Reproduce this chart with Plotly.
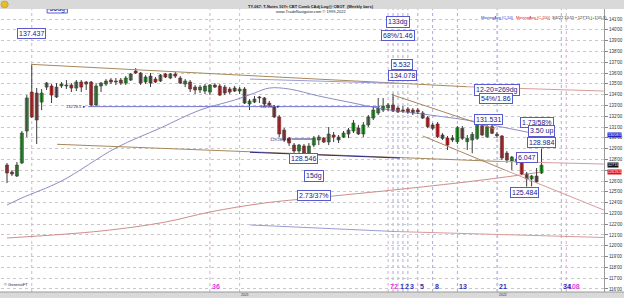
import numpy as np
import pandas as pd
import plotly.graph_objects as go

# ---------------- data (weekly bars, T-Notes 10Yr) ----------------
start = pd.Timestamp("2020-02-07")
opens = [127.48,126.83,126.46,127.67,130.63,134.24,134.15,133.31,134.70,134.80,
         133.78,134.80,134.80,134.89,134.61,135.17,135.17,135.17,133.04,134.80,
         134.98,135.35,135.26,135.35,135.07,135.35,136.19,136.00,135.17,135.72,
         135.44,135.26,135.91,135.54,135.91,135.54,134.98,135.17,134.70,134.43,
         134.33,134.24,134.89,134.80,134.70,134.52,134.61,134.33,134.52,133.13,
         133.31,133.78,133.69,133.22,132.85,131.93,130.72,129.98,129.33,128.78,
         129.24,128.59,129.33,129.80,129.98,129.61,130.26,130.07,130.07,130.35,
         130.63,130.91,130.35,131.19,131.83,132.30,132.57,132.76,133.04,132.76,
         132.57,132.67,132.57,132.57,132.30,131.86,131.19,131.28,130.26,129.98,
         129.98,129.64,130.88,129.64,129.80,129.95,131.12,130.10,131.03,130.32,
         130.17,128.59,127.85,128.04,127.76,126.65,126.19,126.46,126.74]
highs = [127.67,127.02,127.76,130.63,133.96,136.80,134.61,134.52,135.17,134.98,
         135.07,135.17,135.35,135.07,135.35,135.35,135.26,135.26,135.07,135.17,
         135.44,135.54,135.54,135.54,135.72,136.00,136.46,136.09,135.81,136.00,
         135.63,135.91,136.00,136.00,136.09,135.72,135.44,135.35,134.89,134.89,
         134.98,134.98,135.07,134.98,134.89,134.70,134.80,134.70,134.70,133.59,
         133.87,133.87,133.78,133.41,133.04,132.11,130.91,130.07,129.52,129.43,
         129.43,129.52,130.17,130.26,130.07,131.00,130.54,130.26,130.63,130.91,
         131.65,131.19,131.46,132.11,132.85,133.69,133.69,133.22,134.08,132.94,
         132.94,132.85,132.76,132.76,132.48,132.02,131.37,131.46,130.44,130.17,
         130.26,131.09,131.09,130.26,130.54,131.46,131.37,131.28,131.53,130.54,
         130.26,128.78,128.31,128.50,127.94,126.83,126.56,127.20,128.98]
lows = [125.81,126.46,126.37,127.57,130.07,131.83,129.43,132.57,134.43,133.22,
        133.69,134.61,134.52,134.24,134.33,134.24,134.43,132.85,132.94,134.24,
        134.80,134.98,134.89,134.89,134.89,135.26,135.91,134.89,134.98,134.70,
        135.07,135.17,135.54,135.44,135.54,134.98,134.70,134.24,134.06,134.15,
        134.06,133.96,134.61,133.87,133.96,134.06,134.24,134.06,133.13,132.57,
        133.22,133.22,132.85,132.94,131.83,130.07,129.61,129.24,128.59,128.59,
        128.55,128.56,129.15,129.33,129.52,129.33,129.61,129.52,129.98,129.98,
        130.44,130.26,130.07,131.00,131.65,132.11,132.39,132.48,132.39,132.30,
        132.30,132.20,132.11,132.20,131.74,130.90,130.70,129.98,129.80,128.87,
        129.61,129.43,129.80,128.87,128.57,129.80,130.17,129.98,130.35,129.98,
        127.94,127.67,127.02,127.48,126.56,125.48,125.50,125.81,126.65]
closes = [126.74,126.65,127.48,130.44,133.69,131.93,131.65,134.15,135.07,133.96,
          134.70,134.98,134.89,134.61,135.17,134.70,134.98,133.04,134.80,135.07,
          135.26,135.17,135.17,135.07,135.54,135.91,136.00,135.07,135.63,135.07,
          135.17,135.81,135.63,135.91,135.72,135.07,135.26,134.52,134.43,134.70,
          134.80,134.89,134.70,133.96,134.15,134.24,134.33,134.52,133.22,133.41,
          133.59,133.69,133.13,133.04,131.93,130.35,129.80,129.52,128.78,129.33,
          128.59,129.24,129.98,130.07,129.61,130.35,130.07,129.80,130.44,130.72,
          131.37,130.35,131.19,131.93,132.57,132.76,132.94,133.04,132.48,132.39,
          132.48,132.39,132.30,132.39,131.83,131.03,130.88,130.10,129.95,129.33,
          129.80,130.94,129.95,129.95,130.32,131.25,130.26,131.03,130.42,130.19,
          128.13,127.94,128.22,127.76,126.65,126.19,126.46,125.91,127.47]

# moving averages (bar index, value)
ma50_idx = [0, 3, 11, 22, 31, 39, 46, 50, 53, 57, 63, 69, 76, 84, 94, 100, 108]
ma50_val = [123.78,124.43,126.00,129.06,130.91,132.57,133.50,134.15,134.61,134.52,
            133.87,133.31,132.67,132.20,131.56,131.00,130.27]
ma200_idx = [0, 19, 32, 41, 52, 62, 80, 96, 108]
ma200_val = [120.72,121.37,122.20,123.13,123.96,124.43,125.26,126.09,126.83]

# trendlines: (bar0, price0, bar1, price1, colour)
trendlines = [
    (5, 136.80, 92.9, 134.73, "#a8875c"),
    (92.9, 134.73, 120.6, 134.33, "#d99a9a"),
    (10.1, 129.40, 99.6, 127.81, "#a8875c"),
    (99.6, 127.81, 120.6, 127.57, "#d99a9a"),
    (49.1, 128.66, 79.4, 128.13, "#2a2a8a"),
    (78, 133.96, 98.6, 130.81, "#a8875c"),
    (84, 130.17, 100.6, 127.02, "#a8875c"),
    (100.6, 127.02, 120.6, 123.31, "#d99a9a"),
    (49.1, 135.44, 79.4, 135.03, "#9a9ad6"),
    (49.1, 121.93, 78.4, 121.32, "#9a9ad6"),
    (78.4, 121.32, 120.6, 120.77, "#d99a9a"),
    (16.4, 132.89, 75.4, 132.89, "#7474d0"),
    (57.5, 129.89, 61.6, 129.89, "#2a2a8a"),
]

# boxed text labels: (text, bar, price)
box_labels = [
    ("137.437", 5, 139.70), ("133dg", 79.0, 140.77), ("68%/1.46", 79.0, 139.43),
    ("5.532", 79.8, 136.79), ("134.078", 80.0, 135.81), ("12-20\u2261269dg", 99.0, 134.43),
    ("54%/1.86", 98.8, 133.64), ("131.531", 97.2, 131.69), ("1.73/58%", 107.1, 131.46),
    ("3.50 up", 107.9, 130.63), ("128.984", 107.9, 129.61), ("6.047", 105.1, 128.18),
    ("125.484", 104.6, 124.94), ("128.546", 60.0, 128.04), ("15dg", 62.0, 126.42),
    ("2.73/37%", 62.0, 124.66),
]

magenta_base, magenta_counts = 5, [36, 72, 108]
blue_base, blue_counts = 78, [1, 2, 3, 5, 8, 13, 21, 34]
price_ticks = list(range(116, 142))
hidden_ticks = [127]   # covered by the price markers in the original

# ---------------- figure ----------------
def bd(i):
    return (start + pd.Timedelta(days=7 * i)).strftime("%Y-%m-%d %H:%M")

dates = [bd(i) for i in range(len(opens))]
o = np.array(opens); c = np.array(closes)
body_base = np.minimum(o, c)
body_h = np.maximum(np.abs(c - o), 0.06)
body_col = ["#1faa1f" if cc > oo else ("#e01c1c" if cc < oo else "#9a9a9a") for oo, cc in zip(opens, closes)]

fig = go.Figure()

fig.add_trace(go.Scatter(x=[bd(i) for i in ma200_idx], y=ma200_val, mode="lines",
                         line=dict(color="#d08c8c", width=1, shape="spline"),
                         hoverinfo="skip", showlegend=False))
fig.add_trace(go.Scatter(x=[bd(i) for i in ma50_idx], y=ma50_val, mode="lines",
                         line=dict(color="#8c8cc8", width=1, shape="spline"),
                         hoverinfo="skip", showlegend=False))

wx, wy = [], []
for d, hh, ll in zip(dates, highs, lows):
    wx += [d, d, None]
    wy += [ll, hh, None]
fig.add_trace(go.Scatter(x=wx, y=wy, mode="lines", line=dict(color="#3a3a3a", width=1),
                         hoverinfo="skip", showlegend=False))
fig.add_trace(go.Bar(x=dates, y=body_h, base=body_base, width=4.3 * 86400000,
                     marker=dict(color=body_col, line=dict(color="#3a3a3a", width=0.6)),
                     hoverinfo="skip", showlegend=False))

# clipped "56dg" label at top
fig.add_trace(go.Scatter(x=[bd(10.15)], y=[141.93], mode="text", text=["56dg"],
                         textfont=dict(size=7, color="#20208a", family="Liberation Sans"),
                         cliponaxis=True, showlegend=False, hoverinfo="skip"))

shapes = []
for (i0, p0, i1, p1, col) in trendlines:
    shapes.append(dict(type="line", xref="x", yref="y", x0=bd(i0), y0=p0, x1=bd(i1), y1=p1,
                       line=dict(color=col, width=1), layer="above"))
shapes.append(dict(type="rect", xref="x", yref="y", x0=bd(8.1), x1=bd(12.2), y0=141.56, y1=141.93,
                   line=dict(color="#5a5ad0", width=1), fillcolor="rgba(255,255,255,0)", layer="above"))

# vertical count lines
for n in [0] + magenta_counts:
    shapes.append(dict(type="line", xref="x", yref="paper", x0=bd(magenta_base + n), x1=bd(magenta_base + n),
                       y0=0, y1=1, line=dict(color="#dcaadc", width=1, dash="dot"), layer="below"))
for n in [0] + blue_counts:
    shapes.append(dict(type="line", xref="x", yref="paper", x0=bd(blue_base + n), x1=bd(blue_base + n),
                       y0=0, y1=1, line=dict(color="#aaaadc", width=1, dash="dot"), layer="below"))
for yr in ["2021-01-01", "2022-01-01"]:
    shapes.append(dict(type="line", xref="x", yref="paper", x0=yr, x1=yr, y0=0, y1=1,
                       line=dict(color="#c4c4c4", width=1, dash="dot"), layer="below"))

# header & footer bars
shapes.append(dict(type="rect", xref="paper", yref="paper", x0=-0.01, x1=1.05, y0=1.0, y1=1.05,
                   fillcolor="#d9d9d9", line=dict(width=0), layer="above"))
shapes.append(dict(type="rect", xref="paper", yref="paper", x0=-0.01, x1=1.05, y0=-0.05, y1=0.0,
                   fillcolor="#d9d9d9", line=dict(width=0), layer="above"))
shapes.append(dict(type="line", xref="paper", yref="paper", x0=-0.01, x1=1.05, y0=0, y1=0,
                   line=dict(color="#9a9a9a", width=1), layer="above"))
shapes.append(dict(type="circle", xref="paper", yref="paper", x0=0.0, x1=0.012, y0=1.004, y1=1.028,
                   fillcolor="#e6be2a", line=dict(color="#b08a10", width=0.5), layer="above"))

ann = []
for (t, i, p) in box_labels:
    ann.append(dict(x=bd(i), y=p, xref="x", yref="y", text=t, showarrow=False,
                    font=dict(size=7, color="#20208a", family="Liberation Sans"),
                    bgcolor="white", bordercolor="#5a5ad0", borderwidth=1, borderpad=1))

for n in magenta_counts:
    ann.append(dict(x=bd(magenta_base + n), y=0, xref="x", yref="paper", xanchor="left", yanchor="bottom",
                    text=f"<b>{n}</b>", showarrow=False,
                    font=dict(size=7, color="#e03ce0", family="Liberation Sans")))
for n in blue_counts:
    ann.append(dict(x=bd(blue_base + n), y=0, xref="x", yref="paper", xanchor="left", yanchor="bottom",
                    text=f"<b>{n}</b>", showarrow=False,
                    font=dict(size=7, color="#3030b8", family="Liberation Sans")))

for yr, lab in [("2021-01-01", "2021"), ("2022-01-01", "2022")]:
    ann.append(dict(x=yr, y=-0.009, xref="x", yref="paper", xanchor="left", yanchor="middle",
                    text=lab, showarrow=False, borderpad=0,
                    font=dict(size=3.5, color="#333333", family="Liberation Sans")))

small = dict(size=4, color="#20208a", family="Liberation Sans")
ann.append(dict(x=bd(16.4), y=132.89, xref="x", yref="y", xanchor="right", text="132'28.5 \u25ba",
                showarrow=False, font=small))
ann.append(dict(x=bd(55.6), y=132.89, xref="x", yref="y", xanchor="right", text="132'28.5 \u25ba",
                showarrow=False, font=small))
ann.append(dict(x=bd(57.5), y=129.89, xref="x", yref="y", xanchor="right", text="129'28.5 \u25ba",
                showarrow=False, font=small))

# header texts
ann.append(dict(x=0.514, y=1.023, xref="paper", yref="paper", text="<b>TY-067: T-Notes 10Yr CBT Comb CAdj Log@ CBOT  (Weekly bars)</b>",
                showarrow=False, font=dict(size=4, color="#222222", family="Liberation Sans")))
ann.append(dict(x=0.514, y=1.008, xref="paper", yref="paper", text="www.TradeNavigator.com \u00a9 1999-2022",
                showarrow=False, font=dict(size=4, color="#222222", family="Liberation Sans")))
ann.append(dict(x=0.793, y=0.987, xref="paper", yref="paper", xanchor="left", text="MovingAvg (C,50)",
                showarrow=False, font=dict(size=4, color="#2c2cc0", family="Liberation Sans")))
ann.append(dict(x=0.850, y=0.987, xref="paper", yref="paper", xanchor="left", text="MovingAvg (C,200)",
                showarrow=False, font=dict(size=4, color="#d02020", family="Liberation Sans")))
ann.append(dict(x=0.910, y=0.987, xref="paper", yref="paper", xanchor="left",
                text="3/4/22 10:55 \u2022 127'15 (+1'05.5)",
                showarrow=False, font=dict(size=4, color="#222222", family="Liberation Sans")))
ann.append(dict(x=0.002, y=0.012, xref="paper", yref="paper", xanchor="left",
                text="\u00a9 GenesisFT", showarrow=False,
                font=dict(size=4, color="#222222", family="Liberation Sans")))

# right-axis value markers
for p, txt, bg in [(ma50_val[-1], "130'08.5", "#2323c8"), (closes[-1], "127'15", "#111111"),
                   (ma200_val[-1], "126'26.5", "#e01010")]:
    ann.append(dict(x=1, y=p, xref="paper", yref="y", xanchor="left", xshift=3, text=txt,
                    showarrow=False, bgcolor=bg, borderpad=0,
                    font=dict(size=3.5, color="white", family="Liberation Sans")))

fig.update_layout(
    width=624, height=298,
    margin=dict(l=1, r=20, t=9, b=6),
    paper_bgcolor="white", plot_bgcolor="white",
    shapes=shapes, annotations=ann, showlegend=False, barmode="overlay",
    xaxis=dict(type="date", range=["2020-01-29 12:00", "2022-05-31 09:00"],
               showticklabels=False, showgrid=False, zeroline=False, showline=False),
    yaxis=dict(side="right", range=[115.72, 141.93],
               tickvals=price_ticks,
               ticktext=["" if v in hidden_ticks else f"{v}'00" for v in price_ticks],
               ticks="outside", ticklen=3, tickcolor="#888888",
               tickfont=dict(size=4.5, color="#333333", family="Liberation Sans"),
               showgrid=True, gridcolor="#c8c8c8", griddash="dot", gridwidth=1,
               showline=True, linecolor="#9a9a9a", zeroline=False),
)

fig.write_html("out.html")
